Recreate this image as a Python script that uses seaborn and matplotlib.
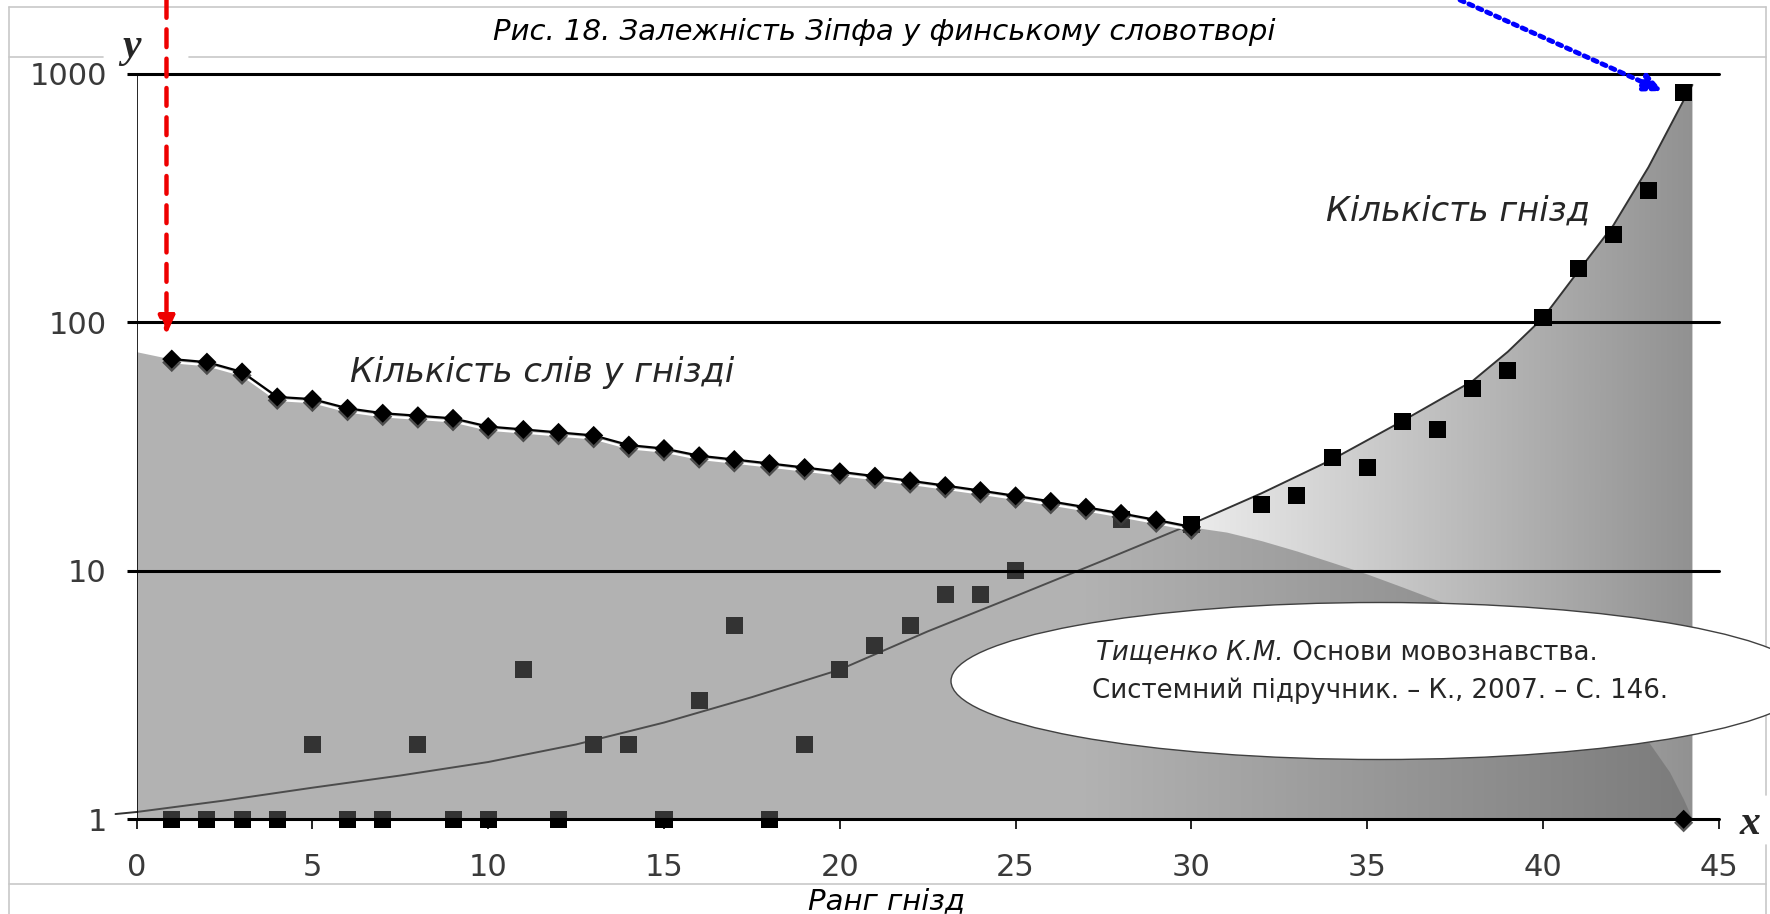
import numpy as np
import pandas as pd
import matplotlib
matplotlib.use("Agg")
import matplotlib.pyplot as plt
import seaborn as sns
from matplotlib import patheffects as pe
from matplotlib.patches import Ellipse
from matplotlib.lines import Line2D
from matplotlib.ticker import NullLocator

nan = np.nan

# ---------------- data ----------------
ranks = list(range(1, 45))
words_per_nest = [71, 69, 63, 50, 49, 45, 43, 42, 41, 38,
                  37, 36, 35, 32, 31, 29, 28, 27, 26, 25,
                  24, 23, 22, 21, 20, 19, 18, 17, 16, 15] + [nan] * 13 + [1]
nest_count = [1, 1, 1, 1, 2, 1, 1, 2, 1, 1,
              4, 1, 2, 2, 1, 3, 6, 1, 2, 4,
              5, 6, 8, 8, 10, nan, nan, 16, nan, 15.4,
              nan, 18.5, 20, 28.6, 26, 40, 37, 54, 64, 104,
              164, 226, 337, 840]
# trend curve of the number of nests
nest_trend_x = [-0.6, 0, 2.5, 5, 7.5, 10, 12.5, 15, 17.5, 20, 22.5, 25, 27.5, 30,
                32, 34, 36, 38, 39, 40, 41, 42, 43, 44, 44.25]
nest_trend_y = [1.05, 1.07, 1.19, 1.34, 1.50, 1.70, 2.0, 2.45, 3.1, 4.0, 5.7, 7.9, 11.0, 15.4,
                20.5, 28, 40, 58, 76, 104, 160, 245, 420, 780, 900]
# words-per-nest area: start value and continuation of its trend after rank 30
words_area_start_x, words_area_start_y = 0, 76
words_tail_x = [31, 32, 33, 34, 35, 36, 37, 38, 39, 40, 41, 42, 43, 43.6, 44, 44.25]
words_tail_y = [14.3, 13.2, 12.0, 10.8, 9.7, 8.6, 7.6, 6.6, 5.6, 4.6, 3.7, 2.9, 2.05, 1.55, 1.2, 1.0]

x_ticks = [0, 5, 10, 15, 20, 25, 30, 35, 40, 45]
y_ticks = [1, 10, 100, 1000]
y_tick_labels = ["1", "10", "100", "1000"]

title = "Рис. 18. Залежність Зіпфа у финському словотворі"
x_title = "Ранг гнізд"
label_words = "Кількість слів у гнізді"
label_nests = "Кількість гнізд"
ref_author = "Тищенко К.М."
ref_line1 = " Основи мовознавства."
ref_line2 = "Системний підручник. – К., 2007. – С. 146."

# ---------------- figure ----------------
sns.set_theme(style="white")
plt.rcParams["font.family"] = ["DejaVu Sans"]

W, H = 1770, 914
fig = plt.figure(figsize=(W / 100, H / 100), dpi=100)
fig.patch.set_facecolor("white")


def fx(px):
    return px / W


def fy(py):
    return 1 - py / H


ax = fig.add_axes([fx(136.6), fy(819.3), (1718.8 - 136.6) / W, (819.3 - 73.5) / H])
ax.set_yscale("log")
ax.patch.set_alpha(0)
for s in ax.spines.values():
    s.set_visible(False)

# gradient area under the nest trend curve
tx = np.array(nest_trend_x)
ty = np.array(nest_trend_y)
m = tx >= 0
poly = ax.fill_between(tx[m], 1, ty[m], facecolor="none", lw=0)
xs = np.linspace(0, 45, 900)
shade = np.where(xs < 27, 1.0, 1 - 0.43 * np.clip((xs - 27) / 17.25, 0, 1))
img = np.dstack([shade, shade, shade])
im = ax.imshow(img, extent=[0, 45, 1, 1000], aspect="auto", origin="lower",
               zorder=1, interpolation="bilinear")
im.set_clip_path(poly.get_paths()[0], transform=ax.transData)

# trend line of nests
sns.lineplot(x=nest_trend_x, y=nest_trend_y, sort=False, color="#333333", lw=1.4,
             ax=ax, zorder=2, clip_on=False)

# squares: number of nests
sns.scatterplot(x=ranks, y=nest_count, marker="s", s=150, color="black",
                edgecolor="none", ax=ax, zorder=3, clip_on=False)

# semi-transparent area: words per nest
wx = [words_area_start_x] + ranks[:30] + words_tail_x
wy = [words_area_start_y] + words_per_nest[:30] + words_tail_y
ax.fill_between(wx, 1, wy, color=(0.4, 0.4, 0.4), alpha=0.5, lw=0, zorder=4)

# horizontal grid and axes lines
for v in [10, 100, 1000]:
    ax.axhline(v, color="black", lw=2.2, zorder=5, clip_on=False)
ax.axhline(1, color="black", lw=2.2, zorder=5, clip_on=False)
ax.axvline(0, color="black", lw=1.2, zorder=5)

# words-per-nest line with diamonds
sns.lineplot(x=ranks[:30], y=words_per_nest[:30], color="black", lw=1.6, ax=ax, zorder=6,
             path_effects=[pe.SimpleLineShadow(offset=(0, -2.2), shadow_color="white", alpha=1),
                           pe.Normal()])
sns.scatterplot(x=ranks, y=words_per_nest, marker="D", s=95, color="black", edgecolor="none",
                ax=ax, zorder=7, clip_on=False,
                path_effects=[pe.SimplePatchShadow(offset=(0, -2.5), shadow_rgbFace="#3c3c3c", alpha=0.85),
                              pe.Normal()])

ax.set_xlim(0, 45)
ax.set_ylim(1, 1000)
ax.set_xlabel("")
ax.set_ylabel("")
ax.set_xticks(x_ticks)
ax.set_xticklabels([str(t) for t in x_ticks], family=["DejaVu Sans"])
ax.set_yticks(y_ticks)
ax.set_yticklabels(y_tick_labels, family=["DejaVu Sans"])
ax.yaxis.set_minor_locator(NullLocator())
ax.tick_params(axis="y", left=True, length=7.5, width=2.2, color="black", direction="out",
               pad=14, labelsize=22, labelcolor="#3a3a3a")
ax.tick_params(axis="x", bottom=True, length=7.5, width=1.2, color="black", direction="out",
               pad=17, labelsize=22, labelcolor="#3a3a3a")
ax.grid(False)

# ---------------- frame of the slide ----------------
box_c = "#c8c8c8"
for (x0, y0, x1, y1) in [(8.6, 7, 1766, 7), (8.6, 57, 103, 57), (189, 57, 1766, 57),
                         (8.6, 884, 1766, 884), (8.6, 7, 8.6, 914),
                         (1766, 7, 1766, 795), (1766, 845, 1766, 914)]:
    fig.add_artist(Line2D([fx(x0), fx(x1)], [fy(y0), fy(y1)], color=box_c, lw=1.2, zorder=-1))

# ---------------- texts ----------------
fig.text(fx(884), fy(32), title, ha="center", va="center", fontsize=21, style="italic",
         family=["DejaVu Sans"], color="black")
fig.text(fx(886), fy(909), x_title, ha="center", va="baseline", fontsize=21, style="italic",
         family=["DejaVu Sans"], color="black")
ax.text(fx(131), fy(47), "y", transform=fig.transFigure, ha="center", va="center", fontsize=30,
        style="italic", weight="bold", family=["Liberation Serif", "DejaVu Serif"], clip_on=False)
ax.text(fx(1750), fy(824), "x", transform=fig.transFigure, ha="center", va="center", fontsize=30,
        style="italic", weight="bold", family=["Liberation Serif", "DejaVu Serif"], clip_on=False)
ax.text(fx(350), fy(372), label_words, transform=fig.transFigure, ha="left", va="center",
        fontsize=24.3, style="italic", family=["DejaVu Sans"], zorder=8)
ax.text(fx(1326), fy(211), label_nests, transform=fig.transFigure, ha="left", va="center",
        fontsize=24.3, style="italic", family=["DejaVu Sans"], zorder=8)

# reference ellipse
ell = Ellipse((fx(1380), fy(681)), width=858 / W, height=157 / H, transform=fig.transFigure,
              facecolor="white", edgecolor="#404040", lw=1.0, zorder=10, clip_on=False)
ax.add_artist(ell)
t1 = ax.text(fx(1096), fy(666), ref_author, transform=fig.transFigure, ha="left", va="bottom",
             fontsize=18.7, style="italic", family=["DejaVu Sans"], zorder=11, clip_on=False)
ax.annotate(ref_line1, xy=(1, 0), xycoords=t1, ha="left", va="bottom", fontsize=18.7,
            family=["DejaVu Sans"], zorder=11, annotation_clip=False)
ax.text(fx(1092), fy(704), ref_line2, transform=fig.transFigure, ha="left", va="bottom",
        fontsize=18.7, family=["DejaVu Sans"], zorder=11, clip_on=False)

# arrows
ax.annotate("", xy=(0.85, 89), xycoords="data", xytext=(0.85, 1.0),
            textcoords=("data", "figure fraction"),
            arrowprops=dict(arrowstyle="-|>,head_length=0.9,head_width=0.4", color="#ee0000",
                            lw=3.2, linestyle=(0, (4, 2.6)), shrinkA=0, shrinkB=0),
            annotation_clip=False, zorder=12)
ax.annotate("", xy=(43.4, 850), xycoords="data", xytext=(37.64, 1.0),
            textcoords=("data", "figure fraction"),
            arrowprops=dict(arrowstyle="-|>,head_length=0.95,head_width=0.45", color="#0000ff",
                            lw=3.5, linestyle=(0, (0.9, 1.1)), shrinkA=0, shrinkB=0),
            annotation_clip=False, zorder=12)

fig.savefig("out.png", dpi=100, facecolor="white")
